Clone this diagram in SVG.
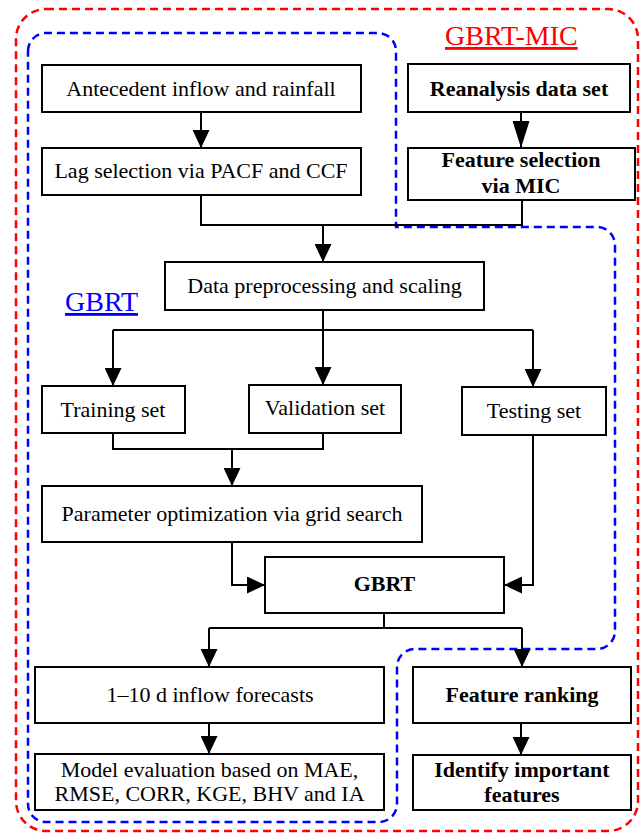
<svg xmlns="http://www.w3.org/2000/svg" width="641" height="834" viewBox="0 0 641 834">
<defs>
<style>
.box{fill:#fff;stroke:#000;stroke-width:2}
.t{font-family:"Liberation Serif","Times New Roman",serif;font-size:22px;fill:#000;text-anchor:middle}
.b{font-weight:bold}
.ln{fill:none;stroke:#000;stroke-width:2}
.ar{fill:none;stroke:#000;stroke-width:2;marker-end:url(#ah)}
.lbl{font-family:"Liberation Serif","Times New Roman",serif;font-size:28px;text-decoration:underline}
</style>
<marker id="ah" markerUnits="userSpaceOnUse" markerWidth="18" markerHeight="17" refX="18" refY="8.5" orient="auto">
<path d="M0,0 L18,8.5 L0,17 Z" fill="#000"/>
</marker>
<marker id="ahl" markerUnits="userSpaceOnUse" markerWidth="27" markerHeight="17" refX="27" refY="8.5" orient="auto">
<path d="M0,0 L27,8.5 L0,17 Z" fill="#000"/>
</marker>
</defs>
<rect width="641" height="834" fill="#fff"/>

<g id="groups">
<rect id="gbrt-mic-frame" x="16" y="9" width="622" height="822" rx="30" ry="30" fill="none" stroke="#f00" stroke-width="2.5" stroke-dasharray="8 5"/>
<path id="gbrt-frame" d="M28,51 A18,18 0 0 1 46,33 L378,33 A18,18 0 0 1 396,51 L396,227 L597,227 A18,18 0 0 1 615,245 L615,631 A18,18 0 0 1 597,649 L415,649 A18,18 0 0 0 397,667 L397,804 A18,18 0 0 1 379,822 L46,822 A18,18 0 0 1 28,804 Z" fill="none" stroke="#00f" stroke-width="2.5" stroke-dasharray="8 5"/>
<text x="445" y="45" class="lbl" fill="#f00">GBRT-MIC</text>
<text x="65" y="311" class="lbl" fill="#00f">GBRT</text>
</g>

<g id="connectors">
<line class="ar" x1="201" y1="112" x2="201" y2="148"/>
<line class="ln" x1="521" y1="112" x2="521" y2="148" style="marker-end:url(#ahl)"/>
<polyline class="ln" points="201,195 201,225 522,225 522,200"/>
<line class="ar" x1="323" y1="225" x2="323" y2="262"/>
<line class="ln" x1="323" y1="310" x2="323" y2="330"/>
<line class="ln" x1="113" y1="330" x2="533" y2="330"/>
<line class="ar" x1="113" y1="330" x2="113" y2="386"/>
<line class="ar" x1="323" y1="330" x2="323" y2="385"/>
<line class="ar" x1="533" y1="330" x2="533" y2="387"/>
<polyline class="ln" points="113,433 113,449 323,449 323,433"/>
<line class="ar" x1="232" y1="449" x2="232" y2="486"/>
<polyline class="ar" points="232,542 232,585 265,585"/>
<polyline class="ar" points="533,435 533,585 504,585"/>
<line class="ln" x1="384" y1="613" x2="384" y2="628"/>
<line class="ln" x1="209" y1="628" x2="522" y2="628"/>
<line class="ar" x1="209" y1="628" x2="209" y2="667"/>
<line class="ar" x1="522" y1="628" x2="522" y2="667"/>
<line class="ar" x1="209" y1="723" x2="209" y2="754"/>
<line class="ar" x1="521" y1="723" x2="521" y2="755"/>
</g>

<g id="antecedent">
<rect class="box" x="42" y="65" width="319" height="47"/>
<text class="t" x="201" y="96">Antecedent inflow and rainfall</text>
</g>
<g id="lag-selection">
<rect class="box" x="42" y="148" width="319" height="47"/>
<text class="t" x="201" y="178">Lag selection via PACF and CCF</text>
</g>
<g id="reanalysis">
<rect class="box" x="408" y="64" width="222" height="48"/>
<text class="t b" x="519" y="96">Reanalysis data set</text>
</g>
<g id="feature-selection">
<rect class="box" x="408" y="148" width="227" height="52"/>
<text class="t b" x="521" y="167">Feature selection</text>
<text class="t b" x="521" y="193">via MIC</text>
</g>
<g id="data-preprocessing">
<rect class="box" x="165" y="262" width="319" height="48"/>
<text class="t" x="324.5" y="293">Data preprocessing and scaling</text>
</g>
<g id="training-set">
<rect class="box" x="42" y="386" width="143" height="47"/>
<text class="t" x="113" y="417">Training set</text>
</g>
<g id="validation-set">
<rect class="box" x="249" y="385" width="152" height="48"/>
<text class="t" x="325" y="415">Validation set</text>
</g>
<g id="testing-set">
<rect class="box" x="462" y="387" width="144" height="48"/>
<text class="t" x="534" y="418">Testing set</text>
</g>
<g id="parameter-optimization">
<rect class="box" x="42" y="486" width="380" height="56"/>
<text class="t" x="232" y="521">Parameter optimization via grid search</text>
</g>
<g id="gbrt">
<rect class="box" x="265" y="557" width="239" height="56"/>
<text class="t b" x="384.5" y="591">GBRT</text>
</g>
<g id="inflow-forecasts">
<rect class="box" x="35" y="667" width="349" height="56"/>
<text class="t" x="210" y="702">1–10 d  inflow forecasts</text>
</g>
<g id="feature-ranking">
<rect class="box" x="413" y="667" width="218" height="56"/>
<text class="t b" x="522" y="702">Feature ranking</text>
</g>
<g id="model-evaluation">
<rect class="box" x="35" y="754" width="349" height="56"/>
<text class="t" x="209.5" y="777">Model evaluation based on MAE,</text>
<text class="t" x="209.5" y="801">RMSE, CORR, KGE, BHV and IA</text>
</g>
<g id="identify-features">
<rect class="box" x="413" y="755" width="218" height="55"/>
<text class="t b" x="522" y="777">Identify important</text>
<text class="t b" x="522" y="802">features</text>
</g>
</svg>
